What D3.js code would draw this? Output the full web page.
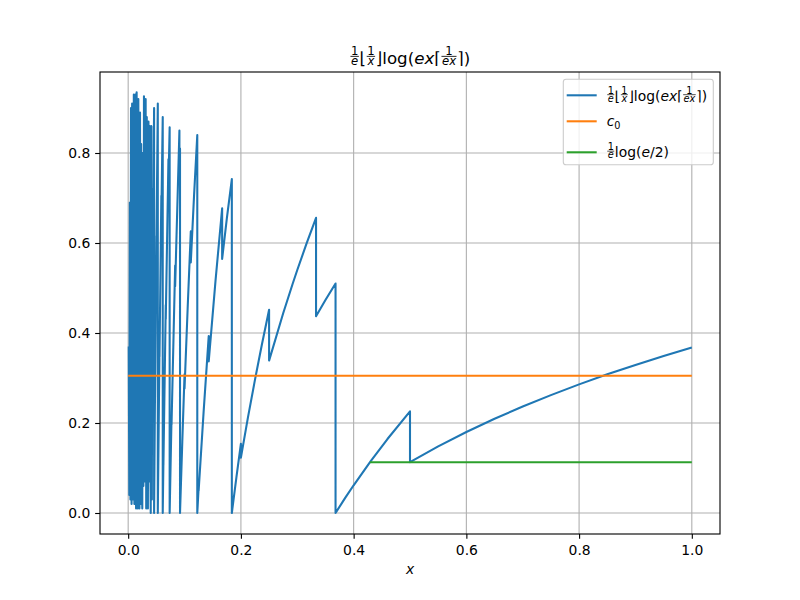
<!DOCTYPE html>
<html>
<head>
<meta charset="utf-8">
<script src="https://cdnjs.cloudflare.com/ajax/libs/d3/7.8.5/d3.min.js"></script>
<style>
  body { margin: 0; background: #fff; }
  svg text { font-family: "DejaVu Sans", sans-serif; }
</style>
</head>
<body>
<svg id="chart" width="800" height="600"></svg>
<script>
// samples near x = 0, where the curve is too dense to follow
const denseX = [0.001, 0.002, 0.003, 0.004, 0.005, 0.006, 0.007, 0.008, 0.009, 0.010,
  0.011, 0.012, 0.013, 0.014, 0.015, 0.016, 0.017, 0.018, 0.019, 0.020,
  0.021, 0.022, 0.023, 0.024, 0.025, 0.026, 0.027, 0.028, 0.029, 0.030,
  0.031, 0.032, 0.033, 0.034, 0.035, 0.036, 0.037, 0.038, 0.039, 0.040,
  0.041, 0.042, 0.043, 0.044];
const denseY = [0.37, 0.04, 0.69, 0.03, 0.90, 0.02, 0.91, 0.35, 0.03, 0.93,
  0.02, 0.60, 0.93, 0.01, 0.935, 0.15, 0.01, 0.92, 0.45, 0.01,
  0.89, 0.02, 0.82, 0.10, 0.01, 0.80, 0.06, 0.926, 0.30, 0.07,
  0.92, 0.01, 0.88, 0.55, 0.01, 0.87, 0.07, 0.86, 0.20, 0.00,
  0.86, 0.03, 0.72, 0.40];

// the rest of the curve: jumps are two points at the same x
const curveX = [0.04545, 0.04545, 0.04598, 0.04598, 0.04762, 0.04762, 0.05, 0.05, 0.05255, 0.05258,
  0.05263, 0.05556, 0.05556, 0.05882, 0.05882, 0.06131, 0.06131, 0.0625, 0.0625, 0.06667,
  0.06667, 0.07143, 0.07143, 0.07358, 0.07358, 0.07692, 0.07692, 0.08333, 0.08333, 0.09091,
  0.09091, 0.09197, 0.09197, 0.096, 0.1, 0.1, 0.1055, 0.1111, 0.1111, 0.117,
  0.1226, 0.1226, 0.125, 0.125, 0.134, 0.1429, 0.1429, 0.155, 0.1667, 0.1667,
  0.175, 0.1839, 0.1839, 0.192, 0.2, 0.2, 0.2125, 0.225, 0.2375, 0.25,
  0.25, 0.275, 0.2917, 0.3, 0.3167, 0.3333, 0.3333, 0.35, 0.3679, 0.3679,
  0.385, 0.4, 0.43, 0.46, 0.5, 0.5, 0.55, 0.6, 0.65, 0.7,
  0.75, 0.8, 0.85, 0.9, 0.95, 1.0];
const curveY = [0.859, 0.821, 0.90, 0.0, 0.27, 0.257, 0.616, 0.585, 0.91, 0.0,
  0.01, 0.367, 0.347, 0.705, 0.663, 0.88, 0.0, 0.113, 0.106, 0.462,
  0.431, 0.786, 0.73, 0.857, 0.0, 0.213, 0.196, 0.55, 0.504, 0.85,
  0.778, 0.81, 0.0, 0.158, 0.308, 0.277, 0.4546, 0.626, 0.557, 0.7085,
  0.84, 0.0, 0.0566, 0.0495, 0.228, 0.393, 0.337, 0.517, 0.677, 0.5645,
  0.654, 0.742, 0.0, 0.079, 0.154, 0.123, 0.2125, 0.2965, 0.376, 0.4516,
  0.3387, 0.4439, 0.509, 0.540, 0.5996, 0.656, 0.4374, 0.4733, 0.510, 0.0,
  0.0335, 0.0616, 0.1148, 0.1644, 0.2258, 0.1129, 0.148, 0.180, 0.2094, 0.2367,
  0.2620, 0.2858, 0.3081, 0.3291, 0.3490, 0.3679];

const c0X = [0, 1];
const c0Y = [0.305, 0.305];
const halfLogX = [0.429, 1];
const halfLogY = [0.1129, 0.1129];

const xTicks = [0, 0.2, 0.4, 0.6, 0.8, 1.0];
const yTicks = [0, 0.2, 0.4, 0.6, 0.8];

const margin = { left: 100, right: 80, top: 72, bottom: 66 };
const width = 800 - margin.left - margin.right;
const height = 600 - margin.top - margin.bottom;
const lw = 2.08; // 1.5pt at 100 dpi
const thin = 1.11; // 0.8pt

const svg = d3.select('#chart');
const plot = svg.append('g').attr('transform', `translate(${margin.left},${margin.top})`);

const xScale = d3.scaleLinear().domain([-0.05, 1.05]).range([0, width]);
const yScale = d3.scaleLinear().domain([-0.04667, 0.98]).range([height, 0]);

// grid
plot.append('g')
  .selectAll('line')
  .data(xTicks)
  .enter()
  .append('line')
  .attr('x1', d => xScale(d)).attr('x2', d => xScale(d))
  .attr('y1', 0).attr('y2', height)
  .attr('stroke', '#b0b0b0').attr('stroke-width', thin);
plot.append('g')
  .selectAll('line')
  .data(yTicks)
  .enter()
  .append('line')
  .attr('x1', 0).attr('x2', width)
  .attr('y1', d => yScale(d)).attr('y2', d => yScale(d))
  .attr('stroke', '#b0b0b0').attr('stroke-width', thin);

const line = d3.line().x(d => xScale(d[0])).y(d => yScale(d[1]));

const bluePts = denseX.map((x, i) => [x, denseY[i]])
  .concat(curveX.map((x, i) => [x, curveY[i]]));

plot.append('path')
  .datum(bluePts)
  .attr('d', line)
  .attr('fill', 'none')
  .attr('stroke', '#1f77b4')
  .attr('stroke-width', lw)
  .attr('stroke-linejoin', 'round');

plot.append('path')
  .datum(c0X.map((x, i) => [x, c0Y[i]]))
  .attr('d', line)
  .attr('fill', 'none')
  .attr('stroke', '#ff7f0e')
  .attr('stroke-width', lw);

plot.append('path')
  .datum(halfLogX.map((x, i) => [x, halfLogY[i]]))
  .attr('d', line)
  .attr('fill', 'none')
  .attr('stroke', '#2ca02c')
  .attr('stroke-width', lw);

// axes
const xAxis = d3.axisBottom(xScale).tickValues(xTicks).tickFormat(d3.format('.1f'))
  .tickSize(4.86).tickPadding(6.3);
const yAxis = d3.axisLeft(yScale).tickValues(yTicks).tickFormat(d3.format('.1f'))
  .tickSize(4.86).tickPadding(4.86);

const gx = plot.append('g').attr('transform', `translate(0,${height})`).call(xAxis);
const gy = plot.append('g').call(yAxis);
[gx, gy].forEach(g => {
  g.select('.domain').remove();
  g.selectAll('.tick line').attr('stroke', '#000').attr('stroke-width', thin);
  g.selectAll('.tick text').attr('font-size', 13.9).attr('fill', '#000')
    .attr('font-family', '"DejaVu Sans", sans-serif');
});

plot.append('rect')
  .attr('width', width).attr('height', height)
  .attr('fill', 'none').attr('stroke', '#000').attr('stroke-width', thin);

// small mathtext-like renderer: plain runs, fractions and subscripts
function mathLabel(parent, parts, size) {
  const g = parent.append('g');
  let cx = 0;
  parts.forEach(p => {
    if (p.num !== undefined) {
      const fs = size * 0.7;
      const num = g.append('text').attr('font-size', fs).attr('text-anchor', 'middle').text(p.num);
      const den = g.append('text').attr('font-size', fs).attr('text-anchor', 'middle')
        .attr('font-style', 'italic').text(p.den);
      const w = Math.max(num.node().getComputedTextLength(), den.node().getComputedTextLength()) + size * 0.14;
      num.attr('x', cx + w / 2).attr('y', -size * 0.52);
      den.attr('x', cx + w / 2).attr('y', size * 0.06);
      g.append('line')
        .attr('x1', cx + size * 0.04).attr('x2', cx + w - size * 0.04)
        .attr('y1', -size * 0.44).attr('y2', -size * 0.44)
        .attr('stroke', '#000').attr('stroke-width', size * 0.05);
      cx += w;
    } else if (p.sub !== undefined) {
      const t = g.append('text').attr('x', cx).attr('y', size * 0.22)
        .attr('font-size', size * 0.7).text(p.sub);
      cx += t.node().getComputedTextLength();
    } else {
      const t = g.append('text').attr('x', cx).attr('font-size', size)
        .attr('font-style', p.it ? 'italic' : 'normal').text(p.s);
      cx += t.node().getComputedTextLength();
    }
  });
  return { g, width: cx };
}

const mainLabel = [
  { num: '1', den: 'e' }, { s: '⌊' }, { num: '1', den: 'x' }, { s: '⌋' },
  { s: 'log(' }, { s: 'ex', it: true }, { s: '⌈' }, { num: '1', den: 'ex' }, { s: '⌉' }, { s: ')' }
];
const c0Label = [{ s: 'c', it: true }, { sub: '0' }];
const halfLogLabel = [{ num: '1', den: 'e' }, { s: 'log(' }, { s: 'e', it: true }, { s: '/2)' }];

// title
const title = mathLabel(svg, mainLabel, 16.67);
title.g.attr('transform', `translate(${410 - title.width / 2},63.7)`);

// x label
svg.append('text')
  .attr('x', 410).attr('y', 574)
  .attr('text-anchor', 'middle')
  .attr('font-size', 13.9).attr('font-style', 'italic')
  .text('x');

// legend
const legend = svg.append('g');
legend.append('rect')
  .attr('x', 563.3).attr('y', 79.3).attr('width', 150).attr('height', 85.4)
  .attr('rx', 2.8)
  .attr('fill', '#fff').attr('fill-opacity', 0.8)
  .attr('stroke', '#cccccc').attr('stroke-width', thin);

const legendItems = [
  { parts: mainLabel, color: '#1f77b4', y: 95.3, base: 5.5 },
  { parts: c0Label, color: '#ff7f0e', y: 121.3, base: 4.5 },
  { parts: halfLogLabel, color: '#2ca02c', y: 152.3, base: 5 }
];
legendItems.forEach(item => {
  legend.append('line')
    .attr('x1', 566.7).attr('x2', 596.7)
    .attr('y1', item.y).attr('y2', item.y)
    .attr('stroke', item.color).attr('stroke-width', lw);
  const lbl = mathLabel(legend, item.parts, 13.9);
  lbl.g.attr('transform', `translate(606.7,${item.y + item.base})`);
});
</script>
</body>
</html>
